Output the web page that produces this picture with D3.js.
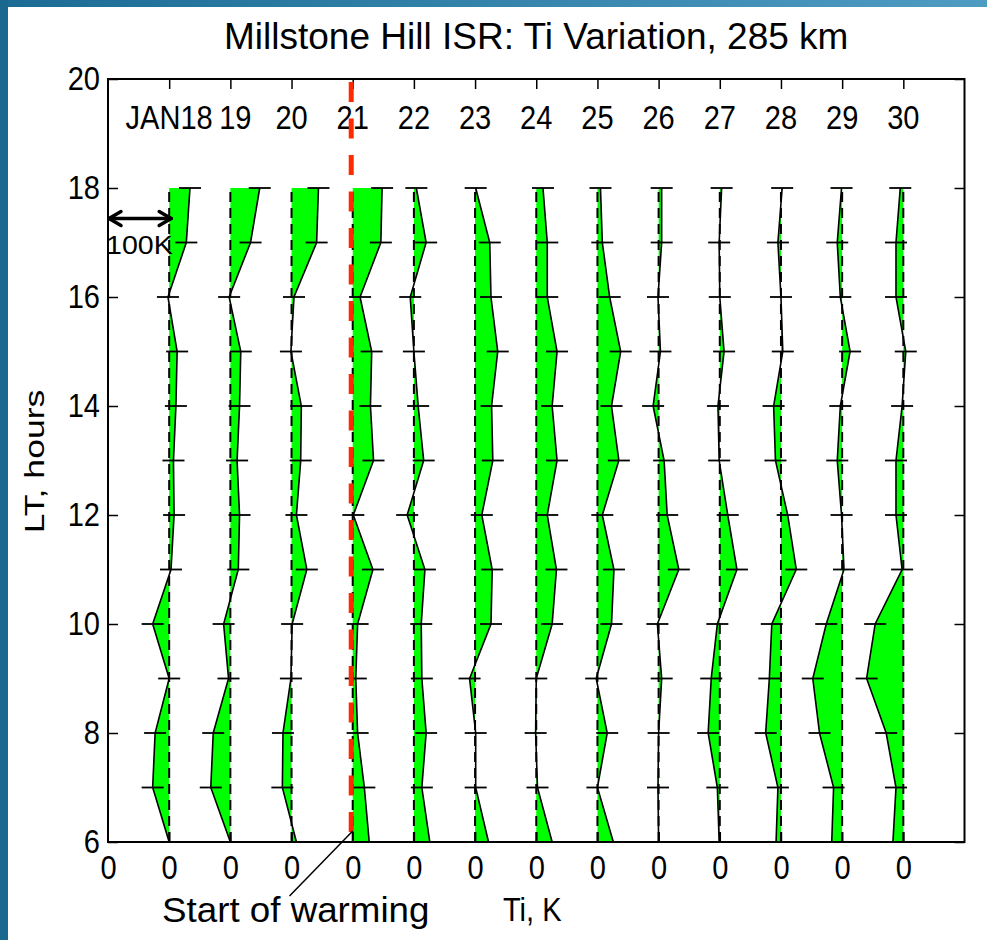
<!DOCTYPE html>
<html>
<head>
<meta charset="utf-8">
<script src="https://cdn.jsdelivr.net/npm/d3@7"></script>
<style>
  html, body { margin: 0; padding: 0; background: #ffffff; }
  svg { display: block; }
  text { font-family: "Liberation Sans", Arial, Helvetica, sans-serif; fill: #000; }
</style>
</head>
<body>
<script>
// ---------------- data ----------------
const hours = [6, 7, 8, 9, 10, 11, 12, 13, 14, 15, 16, 17, 18];
const days = [18, 19, 20, 21, 22, 23, 24, 25, 26, 27, 28, 29, 30];
const dayLabels = ["JAN18", "19", "20", "21", "22", "23", "24", "25", "26", "27", "28", "29", "30"];
const yTicks = [6, 8, 10, 12, 14, 16, 18, 20];
const xZeroTicks = [17, 18, 19, 20, 21, 22, 23, 24, 25, 26, 27, 28, 29, 30];
const warmingDay = 21;
const errK = 18; // half-width of horizontal error bars, K

// Ti deviation (K) per day, hours 6..18
const tiJan18 = [0, -27, -23, 0, -27, 3, 8, 7, 11, 13, -2, 28, 34];
const tiJan19 = [0, -32, -28, -3, -11, 13, 15, 11, 15, 17, -2, 33, 48];
const tiJan20 = [8, -15, -14, -1, 1, 25, 8, 15, 16, -1, 4, 41, 44];
const tiJan21 = [27, 19, 8, 5, 8, 33, 1, 34, 29, 31, 12, 46, 48];
const tiJan22 = [26, 13, 20, 13, 12, 18, -11, 16, 7, 0, -6, 20, 4];
const tiJan23 = [22, 1, 1, -9, 26, 28, 11, 29, 27, 37, 26, 24, 1];
const tiJan24 = [26, 2, -1, 0, 26, 33, 18, 34, 26, 34, 18, 18, 11];
const tiJan25 = [26, 0, 16, -2, 23, 27, 8, 35, 23, 38, 20, 8, 5];
const tiJan26 = [0, -1, 0, 5, -2, 33, 14, 9, -9, 3, -1, 5, 5];
const tiJan27 = [-1, -4, -19, -14, -4, 28, 13, -1, -3, 7, 0, -1, 3];
const tiJan28 = [-8, -5, -25, -19, -15, 25, 11, -9, -12, 3, 0, -5, 2];
const tiJan29 = [-17, -14, -37, -48, -26, 3, -1, -8, -3, 13, -3, -8, -1];
const tiJan30 = [-17, -12, -28, -60, -46, -2, -12, -12, -2, 4, -12, -12, -5];

const series = [tiJan18, tiJan19, tiJan20, tiJan21, tiJan22, tiJan23, tiJan24,
                tiJan25, tiJan26, tiJan27, tiJan28, tiJan29, tiJan30];

// ---------------- layout ----------------
const W = 987, H = 940;
const plot = { left: 108, right: 964.5, top: 79, bottom: 842 };
const fs = "33px";      // axis font size
const sx = 0.88;        // horizontal condensing of the axis font

const svg = d3.select("body").append("svg").attr("width", W).attr("height", H);

// frame decoration (slide background)
const defs = svg.append("defs");
const grad = defs.append("linearGradient").attr("id", "topbar").attr("x1", "0").attr("x2", "1");
grad.append("stop").attr("offset", "0").attr("stop-color", "#1b6b94");
grad.append("stop").attr("offset", "1").attr("stop-color", "#4f9cc3");
svg.append("rect").attr("x", 0).attr("y", 0).attr("width", W).attr("height", H).attr("fill", "#ffffff");
svg.append("rect").attr("x", 0).attr("y", 0).attr("width", W).attr("height", 7).attr("fill", "url(#topbar)");
svg.append("rect").attr("x", 0).attr("y", 0).attr("width", 8).attr("height", H).attr("fill", "#1a6890");

const x = d3.scaleLinear().domain([17, 31]).range([plot.left, plot.right]);
const y = d3.scaleLinear().domain([6, 20]).range([plot.bottom, plot.top]);
const kPerDay = 100; // 100 K spans one day spacing
const xv = (day, k) => x(day + k / kPerDay);

const g = svg.append("g");

// ---------------- profiles ----------------
const area = d3.area()
  .x0(d => xv(d.day, 0))
  .x1(d => xv(d.day, d.v))
  .y(d => y(d.h));
const line = d3.line().x(d => xv(d.day, d.v)).y(d => y(d.h));

days.forEach((day, i) => {
  const pts = hours.map((h, j) => ({ day, h, v: series[i][j] }));
  const pg = g.append("g");
  pg.append("path").datum(pts).attr("d", area).attr("fill", "#00ff00").attr("stroke", "none");
  pg.append("line")
    .attr("x1", x(day)).attr("x2", x(day))
    .attr("y1", y(hours[0])).attr("y2", y(hours[hours.length - 1]))
    .attr("stroke", "#000").attr("stroke-width", 2).attr("stroke-dasharray", "10,6");
  pg.append("path").datum(pts).attr("d", line)
    .attr("fill", "none").attr("stroke", "#000").attr("stroke-width", 1.6);
  pg.selectAll("line.err").data(pts.filter(d => d.h > 6)).enter().append("line")
    .attr("class", "err")
    .attr("x1", d => xv(d.day, d.v - errK)).attr("x2", d => xv(d.day, d.v + errK))
    .attr("y1", d => y(d.h)).attr("y2", d => y(d.h))
    .attr("stroke", "#000").attr("stroke-width", 1.8);
});

// ---------------- axes ----------------
const axL = g.append("g").attr("transform", `translate(${plot.left},0)`)
  .call(d3.axisLeft(y).tickValues(yTicks).tickSizeInner(-10).tickSizeOuter(0).tickPadding(8).tickFormat(d3.format("d")));
const axR = g.append("g").attr("transform", `translate(${plot.right},0)`)
  .call(d3.axisRight(y).tickValues(yTicks).tickSizeInner(-10).tickSizeOuter(0).tickFormat(""));
const axT = g.append("g").attr("transform", `translate(0,${plot.top})`)
  .call(d3.axisTop(x).tickValues(days).tickSizeInner(-10).tickSizeOuter(0).tickFormat(""));
const axB = g.append("g").attr("transform", `translate(0,${plot.bottom})`)
  .call(d3.axisBottom(x).tickValues(xZeroTicks).tickSizeInner(-10).tickSizeOuter(0).tickPadding(14).tickFormat(() => "0"));
[axL, axR, axT, axB].forEach(a => {
  a.select(".domain").remove();
  a.selectAll(".tick line").attr("stroke", "#000").attr("stroke-width", 1.5);
  a.selectAll("text").style("font-size", fs).attr("fill", "#222").attr("transform", `scale(${sx},1)`);
});
axL.selectAll("text").attr("x", -8 / sx);
axB.selectAll(".tick line").filter(d => d === 17).remove();

// box
g.append("rect").attr("x", plot.left).attr("y", plot.top)
  .attr("width", plot.right - plot.left).attr("height", plot.bottom - plot.top)
  .attr("fill", "none").attr("stroke", "#000").attr("stroke-width", 2);

// date labels inside top
g.selectAll("text.day").data(days).enter().append("text")
  .attr("class", "day")
  .attr("transform", (d, i) => `translate(${x(d) + (i === 1 ? 5 : 0)},${plot.top + 50}) scale(${sx},1)`)
  .attr("text-anchor", "middle").style("font-size", fs).attr("fill", "#222")
  .text((d, i) => dayLabels[i]);

// ---------------- annotations ----------------
// warming line
g.append("line")
  .attr("x1", x(warmingDay) - 1.5).attr("x2", x(warmingDay) - 1.5)
  .attr("y1", plot.top + 3).attr("y2", plot.bottom - 10)
  .attr("stroke", "#ff2a00").attr("stroke-width", 5).attr("stroke-dasharray", "20,16.5");

// 100K scale arrow
const ay = y(17.44);
const ax0 = x(17), ax1 = x(18) + 3;
const arr = g.append("g").attr("stroke", "#000").attr("stroke-width", 3.5).attr("fill", "none")
  .attr("stroke-linecap", "round").attr("stroke-linejoin", "round");
arr.append("line").attr("x1", ax0 + 1).attr("x2", ax1 - 1).attr("y1", ay).attr("y2", ay);
arr.append("polyline").attr("points", `${ax0 + 13},${ay - 7} ${ax0 + 1},${ay} ${ax0 + 13},${ay + 7}`);
arr.append("polyline").attr("points", `${ax1 - 13},${ay - 7} ${ax1 - 1},${ay} ${ax1 - 13},${ay + 7}`);
g.append("text").attr("transform", `translate(${ax0 - 2},${ay + 35}) scale(1.1,1)`)
  .style("font-size", "26px").text("100K");

// start of warming leader + label
g.append("line")
  .attr("x1", x(warmingDay)).attr("y1", plot.bottom - 11)
  .attr("x2", x(20) - 2).attr("y2", plot.bottom + 54)
  .attr("stroke", "#000").attr("stroke-width", 1.5);
svg.append("text").attr("transform", "translate(162,922) scale(1.05,1)")
  .style("font-size", "35px").text("Start of warming");

// titles
svg.append("text").attr("x", (plot.left + plot.right) / 2).attr("y", 49)
  .attr("text-anchor", "middle").style("font-size", "37px").attr("fill", "#111")
  .text("Millstone Hill ISR: Ti Variation, 285 km");
svg.append("text").attr("transform", `translate(${(plot.left + plot.right) / 2 - 4},921) scale(${sx},1)`)
  .attr("text-anchor", "middle").style("font-size", fs).attr("fill", "#222").text("Ti, K");
svg.append("text")
  .attr("transform", `translate(44,${(plot.top + plot.bottom) / 2 + 1}) rotate(-90) scale(1.27,1)`)
  .attr("text-anchor", "middle").style("font-size", "28px").attr("fill", "#222").text("LT, hours");
</script>
</body>
</html>
